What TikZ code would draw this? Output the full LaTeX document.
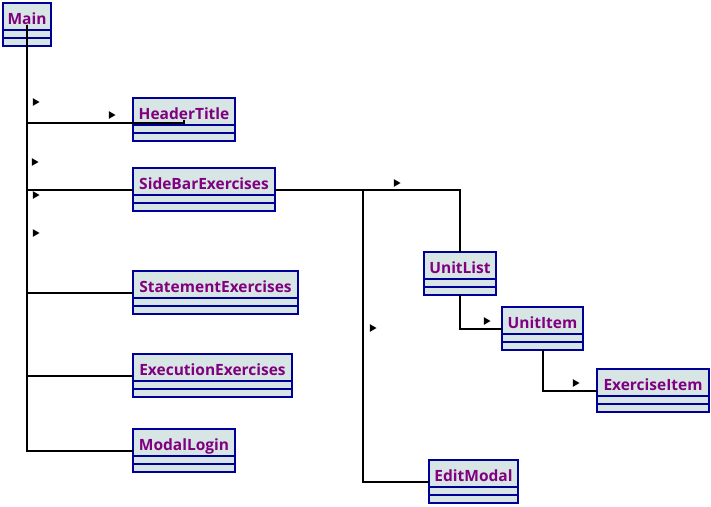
\documentclass[tikz,border=0pt]{standalone}
\usepackage{fontspec}
\newfontfamily\classfont{Open Sans}
\usetikzlibrary{shapes.multipart, shapes.geometric}

\definecolor{classfill}{RGB}{216,229,229}
\definecolor{classline}{RGB}{0,0,153}
\definecolor{classname}{RGB}{128,0,128}

\begin{document}
\begin{tikzpicture}[x=1pt, y=-1pt]
    \tikzstyle{umlclass}=[rectangle split, rectangle split parts=3, draw=classline, fill=classfill,
        line width=2pt, inner xsep=0pt, inner ysep=0pt, outer sep=0pt, anchor=north west,
        rectangle split empty part height=6pt, rectangle split empty part depth=0pt,
        font=\classfont\bfseries\fontsize{15.5}{18}\selectfont, text=classname]
    \tikzstyle{dirtip}=[regular polygon, regular polygon sides=3, shape border rotate=-90,
        fill=black, inner sep=0pt, minimum size=9pt]
    \tikzstyle{link}=[line width=2pt]

    \useasboundingbox (0,0) rectangle (711,506);

    % classes
    \node[umlclass, minimum width=48pt] (Main) at (3,3) {\rule[-5pt]{0pt}{25pt}Main \nodepart{two} \nodepart{three}};
    \node[umlclass, minimum width=102pt] (HeaderTitle) at (133,98) {\rule[-5pt]{0pt}{25pt}HeaderTitle \nodepart{two} \nodepart{three}};
    \node[umlclass, minimum width=142pt] (SideBarExercises) at (133,168) {\rule[-5pt]{0pt}{25pt}SideBarExercises \nodepart{two} \nodepart{three}};
    \node[umlclass, minimum width=165pt] (StatementExercises) at (133,271) {\rule[-5pt]{0pt}{25pt}StatementExercises \nodepart{two} \nodepart{three}};
    \node[umlclass, minimum width=159pt] (ExecutionExercises) at (133,354) {\rule[-5pt]{0pt}{25pt}ExecutionExercises \nodepart{two} \nodepart{three}};
    \node[umlclass, minimum width=102pt] (ModalLogin) at (133,429) {\rule[-5pt]{0pt}{25pt}ModalLogin \nodepart{two} \nodepart{three}};
    \node[umlclass, minimum width=72pt] (UnitList) at (424,252) {\rule[-5pt]{0pt}{25pt}UnitList \nodepart{two} \nodepart{three}};
    \node[umlclass, minimum width=81pt] (UnitItem) at (502,307) {\rule[-5pt]{0pt}{25pt}UnitItem \nodepart{two} \nodepart{three}};
    \node[umlclass, minimum width=112pt] (ExerciseItem) at (597,369) {\rule[-5pt]{0pt}{25pt}ExerciseItem \nodepart{two} \nodepart{three}};
    \node[umlclass, minimum width=89pt] (EditModal) at (429,460) {\rule[-5pt]{0pt}{25pt}EditModal \nodepart{two} \nodepart{three}};

    % links
    \draw[link] (Main.center) |- ([yshift=-3pt]HeaderTitle.center) -- (HeaderTitle.center);
    \draw[link] (Main.center) |- (SideBarExercises.west);
    \draw[link] (Main.center) |- (StatementExercises.west);
    \draw[link] (Main.center) |- (ExecutionExercises.west);
    \draw[link] (Main.center) |- (ModalLogin.west);
    \draw[link] (SideBarExercises.east) -| (UnitList.north);
    \draw[link] (SideBarExercises.east) -- ++(88,0) |- (EditModal.west);
    \draw[link] (UnitList.south) |- (UnitItem.west);
    \draw[link] (UnitItem.south) |- (ExerciseItem.west);

    % direction tips
    \node[dirtip] (tip1) at (35,102) {};
    \node[dirtip] (tip2) at (111,115) {};
    \node[dirtip] (tip3) at (34,162) {};
    \node[dirtip] (tip4) at (35,195) {};
    \node[dirtip] (tip5) at (35,233) {};
    \node[dirtip] (tip6) at (396,183) {};
    \node[dirtip] (tip7) at (372,328) {};
    \node[dirtip] (tip8) at (486,321) {};
    \node[dirtip] (tip9) at (575,383) {};
\end{tikzpicture}
\end{document}
